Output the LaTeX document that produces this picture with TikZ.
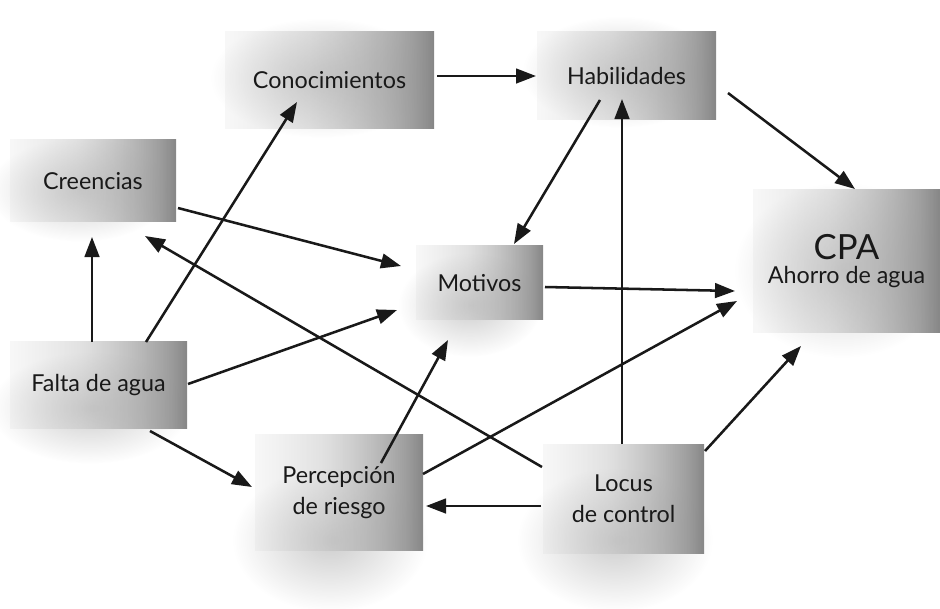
\documentclass[tikz,border=0pt]{standalone}
\usepackage{fontspec}
\setmainfont{Lato}
\usetikzlibrary{arrows.meta,fadings}

% grey gradient of the factor boxes: pale on the left, dark on the right edge
\pgfdeclarehorizontalshading{boxshade}{100bp}{color(0bp)=(black!14); color(45bp)=(black!24); color(70bp)=(black!42); color(88bp)=(black!62); color(100bp)=(black!82)}
% boxes fade out towards their left side
\tikzfading[name=fadeleft, left color=transparent!85, right color=transparent!0]
% soft halo around each box
\tikzfading[name=halo, inner color=transparent!45, outer color=transparent!100]

\begin{document}
\begin{tikzpicture}[x=0.75pt,y=-0.75pt,
  factor/.style={rectangle, shade, shading=boxshade, path fading=fadeleft, inner sep=0pt, align=center,
    font=\fontsize{17.5}{23}\selectfont, text=black!90},
  halo/.style={fill=black!36, path fading=halo},
  link/.style={-{Triangle[length=15pt,width=11pt]}, line width=1.9pt, black!90}]

\useasboundingbox (0,0) rectangle (940,608);

% soft halos under the boxes
\fill[halo] (80,190) ellipse [x radius=92, y radius=52];
\fill[halo] (322,78) ellipse [x radius=112, y radius=60];
\fill[halo] (620,72) ellipse [x radius=98, y radius=56];
\fill[halo] (470,305) ellipse [x radius=72, y radius=52];
\fill[halo] (842,270) ellipse [x radius=108, y radius=88];
\fill[halo] (90,408) ellipse [x radius=100, y radius=56];
\fill[halo] (330,540) ellipse [x radius=98, y radius=72];
\fill[halo] (615,540) ellipse [x radius=98, y radius=72];

% factors
\node[factor, minimum width=124.5pt, minimum height=61.5pt] (cre) at (93,181) {Creencias};
\node[factor, minimum width=156.75pt, minimum height=72pt] (con) at (329.5,80) {Conocimientos};
\node[factor, minimum width=134.25pt, minimum height=66pt] (hab) at (626.5,76) {Habilidades};
\node[factor, minimum width=95.25pt, minimum height=55.5pt] (mot) at (479.5,283) {Motivos};
\node[factor, minimum width=140.25pt, minimum height=107.25pt] (cpa) at (846.5,261.5)
  {{\fontsize{26}{26}\selectfont CPA}\\[-5pt]Ahorro de agua};
\node[factor, minimum width=132.75pt, minimum height=64.5pt] (fal) at (98.5,385) {Falta de agua};
\node[factor, minimum width=126pt, minimum height=86.25pt] (per) at (339,492.5) {Percepción\\de riesgo};
\node[factor, minimum width=120.75pt, minimum height=81pt] (loc) at (623.5,499) {Locus\\de control};

% attachment points of the arrows on the boxes
\coordinate (con-e) at (437,76);   \coordinate (hab-w) at (536,76);
\coordinate (hab-se) at (728,93);  \coordinate (cpa-nw) at (855,189);
\coordinate (hab-s) at (600,100);  \coordinate (mot-n) at (514,244);
\coordinate (cre-e) at (178,208);  \coordinate (mot-w) at (401,266);
\coordinate (loc-nw) at (542,467); \coordinate (cre-s) at (145,236);
\coordinate (fal-n) at (92,342);   \coordinate (cre-b) at (92,237);
\coordinate (fal-ne) at (146,342); \coordinate (con-s) at (297,102);
\coordinate (fal-e) at (188,384);  \coordinate (mot-sw) at (397,310);
\coordinate (fal-se) at (150,431); \coordinate (per-w) at (252,487);
\coordinate (mot-e) at (545,287);  \coordinate (cpa-w) at (735,291);
\coordinate (per-n) at (381,463);  \coordinate (mot-s) at (448,340);
\coordinate (per-e) at (423,474);  \coordinate (cpa-w2) at (737,301);
\coordinate (loc-w) at (541,506);  \coordinate (per-e2) at (426,506);
\coordinate (loc-n) at (622,444);  \coordinate (hab-b) at (622,99);
\coordinate (loc-ne) at (705,451); \coordinate (cpa-s) at (801,346);

% influences
\draw[link] (con-e) -- (hab-w);
\draw[link] (hab-se) -- (cpa-nw);
\draw[link] (hab-s) -- (mot-n);
\draw[link] (cre-e) -- (mot-w);
\draw[link] (loc-nw) -- (cre-s);
\draw[link] (fal-n) -- (cre-b);
\draw[link] (fal-ne) -- (con-s);
\draw[link] (fal-e) -- (mot-sw);
\draw[link] (fal-se) -- (per-w);
\draw[link] (mot-e) -- (cpa-w);
\draw[link] (per-n) -- (mot-s);
\draw[link] (per-e) -- (cpa-w2);
\draw[link] (loc-w) -- (per-e2);
\draw[link] (loc-n) -- (hab-b);
\draw[link] (loc-ne) -- (cpa-s);
\end{tikzpicture}
\end{document}
